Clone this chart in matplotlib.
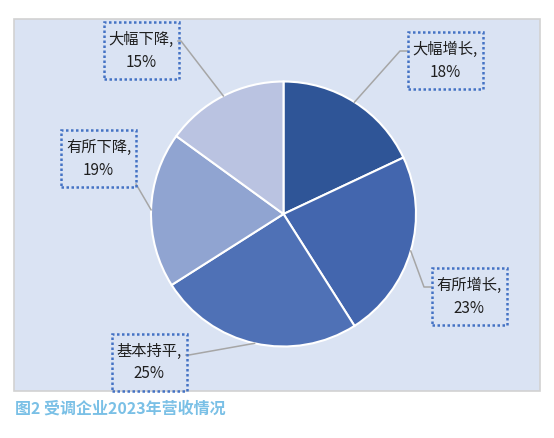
import numpy as np
import matplotlib
matplotlib.use("Agg")
import matplotlib.pyplot as plt
from matplotlib.patches import Rectangle

plt.rcParams["font.family"] = ["Noto Sans CJK SC", "DejaVu Sans"]

# data
categories = ["大幅增长", "有所增长", "基本持平", "有所下降", "大幅下降"]
shares = [18, 23, 25, 19, 15]
colors = ["#2F5597", "#4366AE", "#4F71B6", "#90A4D1", "#BAC3E1"]
caption = "图2 受调企业2023年营收情况"

W, H = 554, 438
fig = plt.figure(figsize=(W / 100, H / 100), dpi=100)
ax = fig.add_axes([0, 0, 1, 1])
ax.set_xlim(0, W)
ax.set_ylim(0, H)
ax.set_aspect("equal")
ax.axis("off")


def py(y):
    # pixel row (top-down) -> axes y
    return H - y


# background panel
ax.add_patch(Rectangle((14, py(391)), 526, 372, facecolor="#DAE3F3",
                       edgecolor="#D2D2D2", linewidth=1.2, zorder=0))

cx, cy, r = 283.5, py(214), 132.5
wedges, _ = ax.pie(shares, colors=colors, startangle=90, counterclock=False,
                   center=(cx, cy), radius=r,
                   wedgeprops=dict(edgecolor="white", linewidth=1.5))
ax.set_xlim(0, W)
ax.set_ylim(0, H)
ax.set_aspect("equal")

# label box layout: centre (px), elbow (px), box side the line joins
boxes = {
    "大幅增长": dict(c=(445, 60.5), elbow=(400, 51), join=(407, 51)),
    "有所增长": dict(c=(469, 296.5), elbow=(424, 287), join=(431, 287)),
    "基本持平": dict(c=(149, 362), elbow=(189, 355), join=(186, 355)),
    "有所下降": dict(c=(98.5, 158.5), elbow=(136, 184), join=(136, 184)),
    "大幅下降": dict(c=(141, 50.5), elbow=(181, 41), join=(178, 41)),
}
bw, bh = 75, 57

for w, name, val in zip(wedges, categories, shares):
    mid = np.deg2rad((w.theta1 + w.theta2) / 2)
    ex, ey = cx + r * np.cos(mid), cy + r * np.sin(mid)
    b = boxes[name]
    (bx, by), (elx, ely), (jx, jy) = b["c"], b["elbow"], b["join"]
    ax.plot([ex, elx, jx], [ey, py(ely), py(jy)], color="#A6A6A6",
            linewidth=1.1, zorder=3)
    ax.add_patch(Rectangle((bx - bw / 2, py(by) - bh / 2), bw, bh,
                           facecolor="none", edgecolor="#4472C4",
                           linewidth=1.8, linestyle=(0, (1, 1)), zorder=4))
    ax.text(bx, py(by) + 11, name + ",", ha="center", va="center",
            fontsize=11, color="#1F1F1F", zorder=5)
    ax.text(bx, py(by) - 12, f"{val}%", ha="center", va="center",
            fontsize=11, color="#1F1F1F", zorder=5)

ax.text(15, py(409), caption, ha="left", va="center", fontsize=11.5,
        fontweight="bold", color="#7AC0E6")

fig.savefig("out.png", dpi=100)
